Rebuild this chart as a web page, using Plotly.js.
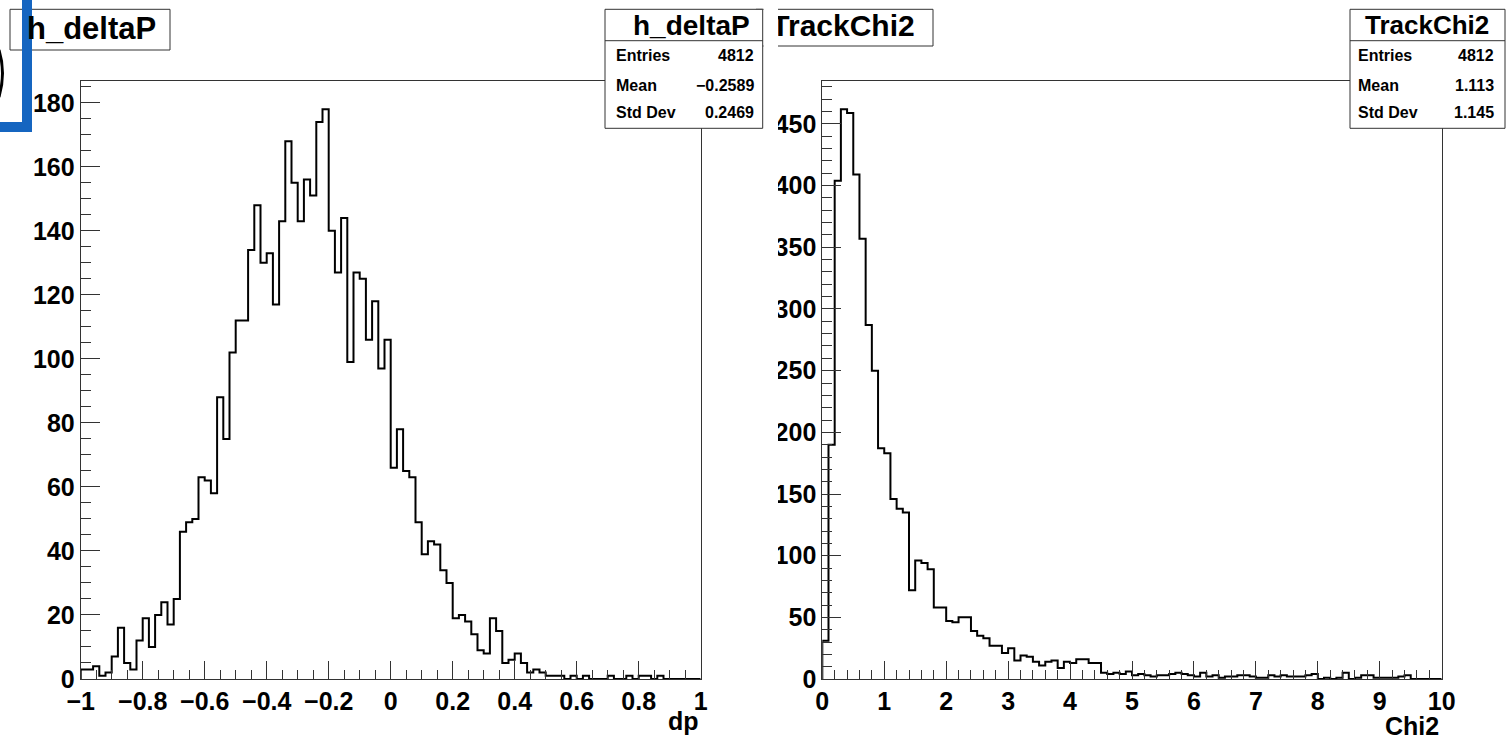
<!DOCTYPE html>
<html>
<head>
<meta charset="utf-8">
<script src="https://cdn.plot.ly/plotly-3.0.1.min.js"></script>
<style>
html,body{margin:0;padding:0;background:#fff;}
#chart{width:1510px;height:741px;}
</style>
</head>
<body>
<div id="chart"></div>
<script>
// ---------------- DATA ----------------
const dpTitle = "h_deltaP";
const dpAxisTitle = "dp";
const dpMin = -1, dpMax = 1;
const dpCounts = [
  3,3,4,1,2,7,16,5,3,12,
  19,10,20,24,17,25,46,49,50,63,
  62,58,88,75,102,112,112,134,148,130,
  133,117,143,168,155,143,156,151,174,178,
  140,127,144,99,127,125,106,118,97,106,
  66,78,65,63,49,39,43,42,34,30,
  19,20,18,14,9,8,19,15,5,6,
  8,5,2,3,2,1,1,1,0,1,
  0,1,0,0,0,1,0,0,1,0,
  1,1,0,1,0,0,0,0,0,0
];

const chiTitle = "TrackChi2";
const chiAxisTitle = "Chi2";
const chiMin = 0, chiMax = 10;
const chiCounts = [
  31,190,404,462,459,409,357,287,250,187,
  183,146,138,135,72,96,94,89,58,58,
  47,46,50,50,39,35,33,27,27,21,
  25,15,19,18,14,11,14,15,9,14,
  13,16,16,13,13,5,4,5,4,6,
  3,4,3,2,3,3,4,5,4,3,
  2,5,2,3,1,2,2,3,3,2,
  1,1,3,2,3,2,2,2,3,4,
  0,1,0,1,5,0,1,3,3,1,
  1,1,1,2,3,0,0,0,0,0
];

const statLabels = ["Entries", "Mean", "Std Dev"];
const dpStats = ["4812", "\u22120.2589", "0.2469"];
const chiStats = ["4812", "1.113", "1.145"];

// ---------------- HELPERS ----------------
const W = 1510, H = 741;
const FONT = "Liberation Sans, Arial, Helvetica, sans-serif";
const FRAME = "#333";

function stepTrace(counts, xmin, xmax, xa, ya) {
  const n = counts.length, bw = (xmax - xmin) / n;
  const xs = [xmin], ys = [0];
  for (let i = 0; i < n; i++) { xs.push(xmin + i * bw); ys.push(counts[i]); }
  xs.push(xmax); ys.push(counts[n - 1]);
  xs.push(xmax); ys.push(0);
  return {
    type: "scatter", mode: "lines", x: xs, y: ys,
    line: {shape: "hv", color: "#000", width: 2},
    xaxis: xa, yaxis: ya, hoverinfo: "skip", showlegend: false, cliponaxis: true
  };
}

function xAxis(dom, lo, hi, dt, mdt, anchor) {
  return {
    domain: dom, range: [lo, hi], tick0: lo, dtick: dt, anchor: anchor,
    ticks: "inside", ticklen: 18, tickwidth: 1, tickcolor: FRAME,
    showline: true, linecolor: FRAME, linewidth: 1, mirror: true,
    showgrid: false, zeroline: false,
    tickfont: {family: FONT, size: 25, color: "#000", weight: "bold"},
    minor: {ticks: "inside", ticklen: 9, dtick: mdt, tick0: lo, tickcolor: FRAME, tickwidth: 1, showgrid: false}
  };
}
function yAxis(dom, hi, dt, mdt, anchor) {
  return {
    domain: dom, range: [0, hi], tick0: 0, dtick: dt, anchor: anchor,
    ticks: "inside", ticklen: 19, tickwidth: 1, tickcolor: FRAME,
    showline: true, linecolor: FRAME, linewidth: 1, mirror: true,
    showgrid: false, zeroline: false,
    tickfont: {family: FONT, size: 25, color: "#000", weight: "bold"},
    minor: {ticks: "inside", ticklen: 10, dtick: mdt, tick0: 0, tickcolor: FRAME, tickwidth: 1, showgrid: false}
  };
}

const yDom = [1 - 679 / H, 1 - 80.7 / H];

const traces = [
  stepTrace(dpCounts, dpMin, dpMax, "x", "y"),
  stepTrace(chiCounts, chiMin, chiMax, "x2", "y2"),
  {
    type: "scatter", mode: "text", x: [843], y: [28.5], text: [chiTitle],
    textposition: "middle center",
    textfont: {family: FONT, size: 30, color: "#000", weight: "bold"},
    xaxis: "x3", yaxis: "y3", hoverinfo: "skip", showlegend: false, cliponaxis: false
  }
];

function ann(text, x, y, xanchor, size) {
  return {
    text: text, x: x, y: y, xref: "x3", yref: "y3", xanchor: xanchor, yanchor: "middle",
    showarrow: false, font: {family: FONT, size: size, color: "#000", weight: "bold"}
  };
}

const annotations = [
  ann(dpTitle, 91, 28, "center", 31),
  ann(dpTitle, 691, 25, "center", 28),
  ann(chiTitle, 1427, 25, "center", 26),
  ann(dpAxisTitle, 700.5, 721, "right", 25),
  ann(chiAxisTitle, 1441, 726, "right", 25)
];
const rowY = [55.5, 85.5, 112.8];
statLabels.forEach((lab, i) => {
  annotations.push(ann(lab, 614, rowY[i], "left", 16));
  annotations.push(ann(dpStats[i], 756, rowY[i], "right", 16));
  annotations.push(ann(lab, 1356, rowY[i], "left", 16));
  annotations.push(ann(chiStats[i], 1496, rowY[i], "right", 16));
});

const shapes = [
  // TrackChi2 title box (under the text trace)
  {type: "rect", xref: "x3", yref: "y3", x0: 756, x1: 933, y0: 9.3, y1: 46,
   line: {color: FRAME, width: 1}, fillcolor: "rgba(0,0,0,0)", layer: "below"},
  // pad clip of the right canvas
  {type: "rect", xref: "x3", yref: "y3", x0: 763.5, x1: 778, y0: 0, y1: H,
   line: {width: 0}, fillcolor: "#fff", layer: "above"},
  // h_deltaP title box
  {type: "rect", xref: "x3", yref: "y3", x0: 10, x1: 170, y0: 9.3, y1: 50,
   line: {color: FRAME, width: 1}, fillcolor: "#fff", layer: "above"},
  // blue marker stroke
  {type: "path", xref: "x3", yref: "y3", path: "M 27 -5 L 27 127 L -5 127",
   line: {color: "#1565c0", width: 10}, layer: "above"},
  // partial black bracket
  {type: "path", xref: "x3", yref: "y3", path: "M -1 50 Q 6 73 -1 97",
   line: {color: "#000", width: 3}, layer: "above"},
  // stats boxes
  {type: "rect", xref: "x3", yref: "y3", x0: 605, x1: 762.7, y0: 9.3, y1: 128.3,
   line: {color: FRAME, width: 1}, fillcolor: "#fff", layer: "above"},
  {type: "line", xref: "x3", yref: "y3", x0: 605, x1: 762.7, y0: 40.7, y1: 40.7,
   line: {color: FRAME, width: 1}, layer: "above"},
  {type: "rect", xref: "x3", yref: "y3", x0: 1350, x1: 1505, y0: 9.3, y1: 128.3,
   line: {color: FRAME, width: 1}, fillcolor: "#fff", layer: "above"},
  {type: "line", xref: "x3", yref: "y3", x0: 1350, x1: 1505, y0: 40.7, y1: 40.7,
   line: {color: FRAME, width: 1}, layer: "above"}
];

const layout = {
  width: W, height: H,
  margin: {l: 0, r: 0, t: 0, b: 0, pad: 0},
  paper_bgcolor: "#fff", plot_bgcolor: "rgba(0,0,0,0)",
  showlegend: false, hovermode: false,
  xaxis: xAxis([80.7 / W, 700.7 / W], dpMin, dpMax, 0.2, 0.05, "y"),
  yaxis: yAxis(yDom, Math.max(...dpCounts) * 1.05, 20, 5, "x"),
  xaxis2: xAxis([822.3 / W, 1441.7 / W], chiMin, chiMax, 1, 0.2, "y2"),
  yaxis2: yAxis(yDom, Math.max(...chiCounts) * 1.05, 50, 10, "x2"),
  xaxis3: {domain: [0, 1], range: [0, W], visible: false, anchor: "y3", fixedrange: true},
  yaxis3: {domain: [0, 1], range: [H, 0], visible: false, anchor: "x3", fixedrange: true},
  shapes: shapes,
  annotations: annotations
};

Plotly.newPlot("chart", traces, layout, {displayModeBar: false, staticPlot: true});
</script>
</body>
</html>
